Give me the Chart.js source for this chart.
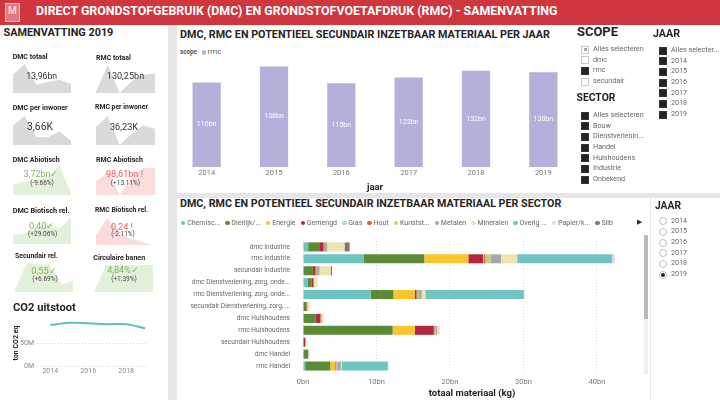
<!DOCTYPE html>
<html>
<head>
<meta charset="utf-8">
<script src="https://cdn.jsdelivr.net/npm/chart.js@4.4.0/dist/chart.umd.min.js"></script>
<style>
  body { margin: 0; width: 720px; height: 400px; background: #e6e6e6; position: relative; overflow: hidden; font-family: Roboto, sans-serif; }
  .panel { position: absolute; background: #fff; }
  .t { position: absolute; white-space: nowrap; line-height: 1; z-index: 2; }
  canvas { position: absolute; z-index: 1; }
  .box { position: absolute; width: 6px; height: 6px; z-index: 2; }
  .dot { display: inline-block; width: .62em; height: .62em; border-radius: 50%; margin-right: .25em; vertical-align: -0.02em; }
</style>
</head>
<body>
<div class="panel" style="left:0;top:0;width:720px;height:25px;background:#d0363e"></div>
<div class="panel" style="left:5px;top:3px;width:15px;height:19px;background:#e07a80;border:1px solid #f2b8bb;box-sizing:border-box"></div>
<div class="panel" style="left:0;top:25px;width:168px;height:375px"></div>
<div class="panel" style="left:177px;top:25px;width:543px;height:168px"></div>
<div class="panel" style="left:177px;top:198px;width:543px;height:202px"></div>
<div class="panel" style="left:650px;top:198px;width:1px;height:202px;background:#e8e8e8"></div>
<div class="panel" style="left:644px;top:235px;width:4px;height:140px;background:#f1f1f1"></div>
<div class="panel" style="left:644px;top:235px;width:4px;height:84px;background:#b9b9b9"></div>

<script>
// ---- data ----
const years = ['2014', '2015', '2016', '2017', '2018', '2019'];
const rmcPerJaar = [116, 138, 115, 123, 132, 130];
const co2Uitstoot = [89, 94, 93, 91, 91, 82];   // miljoen ton CO2 eq

// KPI trends (relative height of each year in the card)
const trendDmcTotaal = [0.61, 0.97, 0.28, 0.37, 0.44, 0.30];
const trendRmcTotaal = [0.06, 1.0, 0.0, 0.41, 0.65, 0.70];
const trendDmcInwoner = [0.67, 1.0, 0.27, 0.27, 0.47, 0.15];
const trendRmcInwoner = [0.62, 1.0, 0.0, 0.38, 0.67, 0.56];
const trendDmcAbio = [0.33, 0.45, 0.5, 0.6, 1.0, 0.05];
const trendRmcAbio = [0.5, 0.87, 0.0, 0.62, 1.0, 1.0];
const trendDmcBio = [0.35, 0.4, 0.6, 0.8, 0.6, 1.0];
const trendRmcBio = [0.38, 1.0, 0.5, 0.25, 0.12, 0.0];
const trendSecundair = [0.06, 1.0, 0.95, 0.95, 0.25, 0.4];
const trendBanen = [0.0, 0.98, 1.0, 1.0, 0.99, 1.0];

const sectorRows = ['dmc Industrie', 'rmc Industrie', 'secundair Industrie',
  'dmc Dienstverlening, zorg, onde...', 'rmc Dienstverlening, zorg, onde...', 'secundair Dienstverlening, zorg, ...',
  'dmc Huishoudens', 'rmc Huishoudens', 'secundair Huishoudens', 'dmc Handel', 'rmc Handel'];
const materials = ['Chemisc...', 'Dierlijk/...', 'Energie', 'Gemengd', 'Glas', 'Hout', 'Kunstst...', 'Metalen', 'Mineralen', 'Overig ...', 'Papier/k...', 'Slib'];
const materialColors = ['#6cc4c0', '#5b8c35', '#fbc530', '#b3283e', '#a5d9e6', '#c7693a', '#c4d46a', '#a7a8ab', '#eee4b3', '#70c5c2', '#dcdcdc', '#8a7565'];
// bn kg per row of sectorRows
const matChemisch = [0.7, 8.25, 0, 0.6, 9.2, 0, 0, 0, 0, 0, 0.3];
const matDierlijk = [1.5, 8.25, 1.35, 0.6, 3.1, 0.45, 1.75, 12.2, 0, 0.7, 3.4];
const matEnergie = [0, 6.0, 0, 0, 2.9, 0, 0, 3.0, 0, 0, 0.7];
const matGemengd = [0.6, 2.0, 0.35, 0.2, 0.25, 0.08, 0.6, 2.6, 0.3, 0, 0.1];
const matGlas = [0.05, 0.1, 0.05, 0, 0.05, 0, 0.02, 0.05, 0, 0, 0.05];
const matHout = [0.1, 0.2, 0.1, 0.05, 0.1, 0.02, 0.1, 0.1, 0.03, 0, 0.05];
const matKunststof = [0.05, 0.7, 0.05, 0, 0.15, 0, 0.05, 0.15, 0, 0, 0.05];
const matMetalen = [0.3, 1.45, 0.35, 0.05, 0.4, 0.03, 0.05, 0.15, 0, 0.03, 0.5];
const matMineralen = [2.3, 2.2, 1.5, 0.45, 0.5, 0.3, 0.2, 0.3, 0.15, 0.15, 0.1];
const matOverig = [0, 12.9, 0, 0, 13.4, 0, 0, 0, 0, 0, 6.3];
const matPapier = [0.05, 0.4, 0, 0, 0.1, 0, 0.05, 0.1, 0, 0, 0.05];
const matSlib = [0.7, 0, 0.2, 0, 0, 0, 0, 0, 0, 0, 0];
const sectorTicks = [0, 10, 20, 30, 40];

const scopeItems = ['Alles selecteren', 'dmc', 'rmc', 'secundair'];
const scopeState = ['partial', 'off', 'on', 'off'];
const sectorItems = ['Alles selecteren', 'Bouw', 'Dienstverlenin...', 'Handel', 'Huishoudens', 'Industrie', 'Onbekend'];
const jaarItems = ['Alles selecter...', '2014', '2015', '2016', '2017', '2018', '2019'];

// ---- helpers ----
function txt(s, x, y, size, o = {}) {
  const d = document.createElement('div');
  d.className = 't';
  d.textContent = s;
  d.style.fontSize = size + 'px';
  d.style.fontWeight = o.bold ? 700 : 400;
  d.style.color = o.color || '#252423';
  document.body.appendChild(d);
  if (o.w) {
    size = size * o.w / d.getBoundingClientRect().width;
    d.style.fontSize = size + 'px';
  }
  const w = d.getBoundingClientRect().width;
  const left = o.align === 'center' ? x - w / 2 : o.align === 'right' ? x - w : x;
  d.style.left = left + 'px';
  d.style.top = (y - size * 0.56) + 'px';
  return d;
}

function canvas(x, y, w, h) {
  const c = document.createElement('canvas');
  c.width = w; c.height = h;
  c.style.left = x + 'px';
  c.style.top = y + 'px';
  document.body.appendChild(c);
  return c;
}

function box(x, y, state) {
  const b = document.createElement('div');
  b.className = 'box';
  b.style.left = x + 'px';
  b.style.top = (y - 3.5) + 'px';
  if (state === 'on') { b.style.background = '#252423'; b.style.border = '1px solid #3a3230'; }
  else if (state === 'partial') { b.style.border = '1px solid #c8c8c8'; b.style.background = '#fff'; b.innerHTML = '<div style="margin:1.5px;width:3px;height:3px;background:#a8a8a8"></div>'; }
  else if (state === 'radio' || state === 'radioOn') {
    b.style.border = '1px solid #c0c0c0'; b.style.borderRadius = '50%'; b.style.background = '#fff';
    if (state === 'radioOn') b.innerHTML = '<div style="margin:1px;width:4px;height:4px;border-radius:50%;background:#252423"></div>';
  }
  else { b.style.border = '1px solid #c8c8c8'; b.style.background = '#fff'; }
  document.body.appendChild(b);
}

Chart.defaults.font.family = 'Roboto, sans-serif';
Chart.defaults.animation = false;
Chart.defaults.plugins.legend.display = false;
Chart.defaults.plugins.tooltip.enabled = false;

// ---- header ----
txt('M', 12.5, 12, 10, { bold: true, color: '#f7d0d2', align: 'center' });
txt('DIRECT GRONDSTOFGEBRUIK (DMC) EN GRONDSTOFVOETAFDRUK (RMC) - SAMENVATTING', 36, 12, 13, { bold: true, color: '#fff', w: 522 });

// ---- left panel: KPI cards ----
txt('SAMENVATTING  2019', 3.5, 34, 13, { bold: true, w: 110 });

const toneFill = { gray: '#dadada', green: '#e3f0da', red: '#fbdcdc' };
const toneText = { gray: '#333333', green: '#78b85a', red: '#ee5a5e' };
const cards = [
  { title: 'DMC totaal', tw: 35, value: '13,96bn', trend: trendDmcTotaal, tone: 'gray', tx: 12.7, ty: 57.3, vx: 41.7, vy: 76.7, vw: 31, area: [13, 63, 58, 30] },
  { title: 'RMC totaal', tw: 35, value: '130,25bn', trend: trendRmcTotaal, tone: 'gray', tx: 96, ty: 58, vx: 125.5, vy: 77, vw: 37.5, area: [96, 65, 59, 28] },
  { title: 'DMC per inwoner', tw: 55, value: '3,66K', trend: trendDmcInwoner, tone: 'gray', tx: 12.7, ty: 108.3, vx: 40, vy: 127.7, vw: 26, area: [13, 116, 58, 29] },
  { title: 'RMC per inwoner', tw: 53, value: '36,23K', trend: trendRmcInwoner, tone: 'gray', tx: 95, ty: 108.3, vx: 124, vy: 127.7, vw: 28, area: [96, 116, 59, 29] },
  { title: 'DMC Abiotisch', tw: 47, value: '3,72bn✓', pct: '(-9.66%)', trend: trendDmcAbio, tone: 'green', tx: 12.7, ty: 160, vx: 41, vy: 175, vw: 34, py: 184, area: [13, 165, 58, 30] },
  { title: 'RMC Abiotisch', tw: 47, value: '98,61bn !', pct: '(+13.11%)', trend: trendRmcAbio, tone: 'red', tx: 96, ty: 160, vx: 124.5, vy: 175, vw: 37, py: 184, area: [96, 168, 59, 27] },
  { title: 'DMC Biotisch rel.', tw: 57, value: '0,40✓', pct: '(+29.06%)', trend: trendDmcBio, tone: 'green', tx: 12.7, ty: 210.7, vx: 41.7, vy: 226.7, vw: 25, py: 234.5, area: [13, 218, 58, 26] },
  { title: 'RMC Biotisch rel.', tw: 53, value: '0,24 !', pct: '(-2.11%)', trend: trendRmcBio, tone: 'red', tx: 95, ty: 210.7, vx: 122, vy: 226.7, vw: 22, py: 234.5, area: [96, 218, 56, 27] },
  { title: 'Secundair rel.', tw: 43, value: '0,55✓', pct: '(+6.69%)', trend: trendSecundair, tone: 'green', tx: 15, ty: 256.7, vx: 44, vy: 271, vw: 25, py: 280, area: [15, 263, 58, 29] },
  { title: 'Circulaire banen', tw: 52, value: '4,84%✓', pct: '(+1.39%)', trend: trendBanen, tone: 'green', tx: 93.3, ty: 257.7, vx: 123, vy: 271, vw: 31, py: 280, area: [94, 265, 59, 27] }
];

cards.forEach(c => {
  const [ax, ay, aw, ah] = c.area;
  new Chart(canvas(ax, ay, aw, ah), {
    type: 'line',
    data: {
      labels: years,
      datasets: [{ data: c.trend, fill: 'origin', backgroundColor: toneFill[c.tone], borderWidth: 0, borderColor: 'rgba(0,0,0,0)', pointRadius: 0, tension: 0 }]
    },
    options: {
      responsive: false,
      layout: { padding: 0 },
      scales: { x: { display: false }, y: { display: false, min: 0, max: 1 } }
    }
  });
  txt(c.title, c.tx, c.ty, 8, { bold: true, w: c.tw });
  txt(c.value, c.vx, c.vy, 10, { color: toneText[c.tone], align: 'center', w: c.vw });
  if (c.pct) txt(c.pct, c.vx + 1, c.py, 6.5, { color: '#444', align: 'center' });
});

// ---- CO2 ----
txt('CO2 uitstoot', 13, 308, 14, { bold: true, w: 63 });
new Chart(canvas(0, 312, 160, 66), {
  type: 'line',
  data: {
    datasets: [{
      data: co2Uitstoot.map((v, i) => ({ x: Number(years[i]), y: v })),
      borderColor: '#5fbfbf', borderWidth: 2, pointRadius: 0, tension: 0.35, fill: false
    }]
  },
  options: {
    responsive: false,
    layout: { padding: { top: 8, right: 13, left: 0, bottom: 0 } },
    scales: {
      x: {
        type: 'linear', min: 2013.3, max: 2019.1,
        afterBuildTicks: s => { s.ticks = [2014, 2016, 2018].map(v => ({ value: v })); },
        ticks: { callback: v => String(v), font: { size: 7 }, color: '#888', padding: 1, maxRotation: 0 },
        grid: { display: false, drawTicks: false }, border: { display: false },
        afterFit: s => { s.height = 12; }
      },
      y: {
        min: 0, max: 100,
        afterBuildTicks: s => { s.ticks = [0, 50].map(v => ({ value: v })); },
        ticks: { callback: v => v + 'M', font: { size: 7 }, color: '#888', padding: 3 },
        grid: { color: '#d6d6d6', drawTicks: false }, border: { display: false, dash: [1, 2] },
        title: { display: true, text: 'ton CO2 eq', font: { size: 7, weight: 'bold' }, color: '#252423', padding: { top: 12, bottom: 0 } },
        afterFit: s => { s.width = 37; }
      }
    }
  }
});

// ---- bar chart per jaar ----
txt('DMC, RMC EN POTENTIEEL SECUNDAIR INZETBAAR MATERIAAL PER JAAR', 180, 36, 12, { bold: true, w: 370 });
txt('scope', 180, 53, 7.5, { bold: true, color: '#555', w: 17 });
const lg = txt('', 201.5, 53, 7.5);
lg.innerHTML = '<span class="dot" style="background:#b3b1da"></span>';
txt('rmc', 207.5, 53, 7.5, { color: '#666', w: 14 });

const barLabels = {
  id: 'barLabels',
  afterDatasetsDraw(chart) {
    const ctx = chart.ctx;
    const ds = chart.data.datasets[0];
    ctx.save();
    ctx.fillStyle = '#fff';
    ctx.font = '7px Roboto';
    ctx.textAlign = 'center';
    ctx.textBaseline = 'middle';
    chart.getDatasetMeta(0).data.forEach((bar, i) => {
      ctx.fillText(Math.round(ds.data[i]) + 'bn', bar.x, (bar.y + bar.base) / 2);
    });
    ctx.restore();
  }
};

new Chart(canvas(173, 60, 404, 135), {
  type: 'bar',
  data: {
    labels: years,
    datasets: [{ label: 'rmc', data: rmcPerJaar, backgroundColor: '#b3b1da', barPercentage: 0.42, categoryPercentage: 1 }]
  },
  options: {
    responsive: false,
    layout: { padding: { top: 5, left: 0, right: 0, bottom: 0 } },
    scales: {
      x: {
        ticks: { font: { size: 7.5 }, color: '#777', padding: 2 },
        grid: { display: false, drawTicks: false }, border: { display: false },
        title: { display: true, text: 'jaar', font: { size: 9.5, weight: 'bold' }, color: '#252423', padding: { top: 0, bottom: 2 } },
        afterFit: s => { s.height = 28; }
      },
      y: { display: false, min: 0, max: 140 }
    }
  },
  plugins: [barLabels]
});

// ---- slicers ----
const itemSize = 7.2;
txt('SCOPE', 577, 33, 11, { bold: true, w: 41 });
scopeItems.forEach((s, i) => {
  const y = 49 + i * 10.7;
  box(581, y, scopeState[i]);
  txt(s, 593, y, itemSize, { color: '#666' });
});
txt('SECTOR', 576.5, 99, 11, { bold: true, w: 39 });
sectorItems.forEach((s, i) => {
  const y = 115 + i * 10.7;
  box(581, y, 'on');
  txt(s, 593, y, itemSize, { color: '#666' });
});
txt('JAAR', 653, 35, 11, { bold: true, w: 27 });
jaarItems.forEach((s, i) => {
  const y = 50 + i * 10.7;
  box(659, y, 'on');
  txt(s, 671, y, itemSize, { color: '#666' });
});
txt('JAAR', 655, 207, 11, { bold: true, w: 26 });
years.forEach((s, i) => {
  const y = 220.7 + i * 10.7;
  box(659, y, i === years.length - 1 ? 'radioOn' : 'radio');
  txt(s, 671, y, itemSize, { color: '#666' });
});

// ---- stacked bars per sector ----
txt('DMC, RMC EN POTENTIEEL SECUNDAIR INZETBAAR MATERIAAL PER SECTOR', 180, 205, 12, { bold: true, w: 382 });
const leg = txt('', 181, 223, 8, { color: '#666' });
leg.innerHTML = materials.map((m, i) =>
  '<span style="margin-right:.72em"><span class="dot" style="background:' + materialColors[i] + '"></span>' + m + '</span>').join('');
const legScale = 438 / leg.getBoundingClientRect().width;
leg.style.fontSize = (8 * legScale) + 'px';
leg.style.top = (223 - 8 * legScale * 0.56) + 'px';
txt('▶', 639, 223, 6.5, { color: '#333', align: 'center' });

const matSeries = [matChemisch, matDierlijk, matEnergie, matGemengd, matGlas, matHout, matKunststof, matMetalen, matMineralen, matOverig, matPapier, matSlib];
new Chart(canvas(176, 232, 476, 168), {
  type: 'bar',
  data: {
    labels: sectorRows,
    datasets: matSeries.map((d, i) => ({
      label: materials[i], data: d, backgroundColor: materialColors[i], barPercentage: 0.76, categoryPercentage: 1
    }))
  },
  options: {
    indexAxis: 'y',
    responsive: false,
    layout: { padding: { top: 6, right: 11, left: 0, bottom: 0 } },
    scales: {
      x: {
        stacked: true, min: 0, max: 46,
        afterBuildTicks: s => { s.ticks = sectorTicks.map(v => ({ value: v })); },
        ticks: { callback: v => v + 'bn', font: { size: 7.5 }, color: '#777', padding: 6 },
        grid: { color: '#dcdcdc', drawTicks: false }, border: { display: false, dash: [1, 2] },
        title: { display: true, text: 'totaal materiaal (kg)', font: { size: 9.5, weight: 'bold' }, color: '#252423', padding: { top: 0, bottom: 1 } },
        afterFit: s => { s.height = 28; }
      },
      y: {
        stacked: true,
        ticks: { font: { size: 6.6 }, color: '#666', padding: 5, autoSkip: false },
        grid: { display: false }, border: { display: false },
        afterFit: s => { s.width = 127; }
      }
    }
  }
});
</script>
</body>
</html>
